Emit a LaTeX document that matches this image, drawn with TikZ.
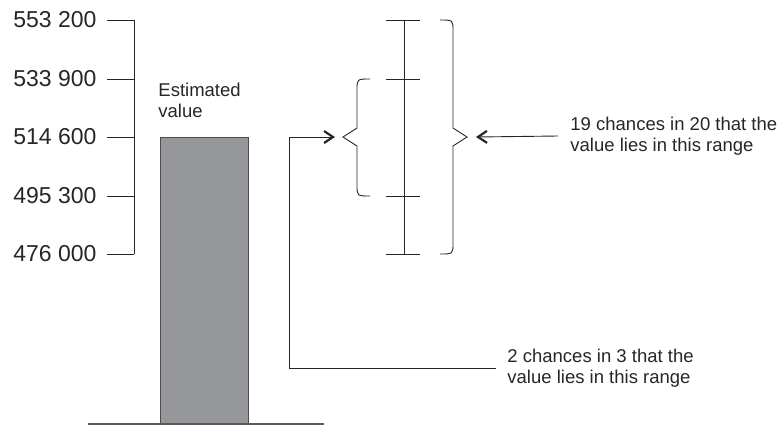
\documentclass[tikz,border=0pt]{standalone}
\usepackage{fontspec}
\setmainfont{Liberation Sans}
\usetikzlibrary{arrows.meta,positioning}

\definecolor{barfill}{RGB}{150,151,155}

\begin{document}
\begin{tikzpicture}[x=1pt,y=-1pt,line width=0.9pt,color=black!85,
  axislabel/.style={anchor=east,inner sep=0pt,font=\fontsize{23}{25}\selectfont},
  note/.style={anchor=west,align=left,inner sep=0pt,font=\fontsize{18.5}{21}\selectfont},
  pointer/.style={-{Straight Barb[length=9pt,width=12pt,line width=2.2pt]}}]

\useasboundingbox (0,0) rectangle (783,424);

% scale on the left
\draw (134,20) -- (134,254);
\foreach \v/\y [count=\i] in {553 200/20, 533 900/79, 514 600/137, 495 300/196, 476 000/254} {
  \node[axislabel] (val\i) at (97,\y) {\v};
  \coordinate (tick\i) at (134,\y);
  \draw ([xshift=10pt]val\i.east) -- (tick\i);
}

% the bar
\node[draw=black!70,fill=barfill,line width=0.8pt,inner sep=0pt,anchor=north west,
  minimum width=88pt,minimum height=286pt] (bar) at (160,137) {};
\node[note] (est) at (158,100) {Estimated\\value};
\draw[line width=2.5pt,black!65] ([xshift=-72pt]bar.south west) -- ([xshift=75pt]bar.south east);

% range bar
\draw (404,20) -- (404,254);
\foreach \y in {20,79,196,254}
  \draw (386,\y) -- (420,\y);

% braces
\coordinate (smalltip) at (343,137);
\coordinate (bigtip) at (467,137);
\draw (370,79) .. controls (357,79) .. (357,90) -- (357,128) -- (smalltip)
  -- (357,146) -- (357,185) .. controls (357,196) .. (370,196);
\draw (440,20) .. controls (453,20) .. (453,31) -- (453,128) -- (bigtip)
  -- (453,146) -- (453,243) .. controls (453,254) .. (440,254);

% notes
\node[note,inner xsep=12pt] (note19) at (558,136)
  {19 chances in 20 that the\\value lies in this range};
\node[note,inner xsep=11pt] (note2) at (496,368)
  {2 chances in 3 that the\\value lies in this range};

\coordinate (elbow) at (289,137);
\draw[pointer] (note19.west) -- ([xshift=9pt]bigtip);
\draw[pointer] (note2.west) -| (elbow) -- ([xshift=-8pt]smalltip);

\end{tikzpicture}
\end{document}
